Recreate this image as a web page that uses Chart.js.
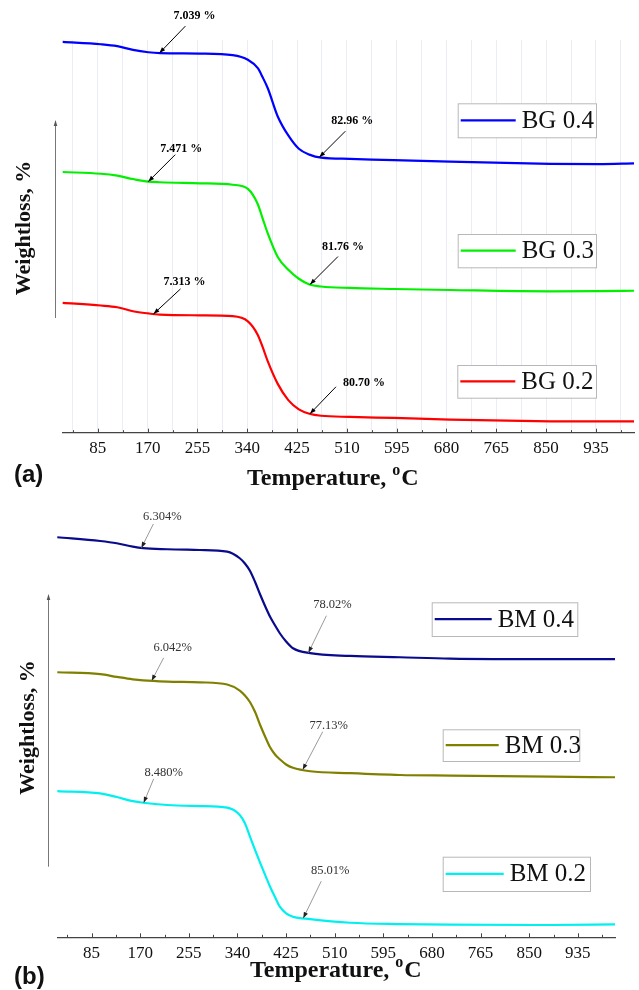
<!DOCTYPE html>
<html>
<head>
<meta charset="utf-8">
<title>TGA curves</title>
<script src="https://cdn.jsdelivr.net/npm/chart.js@4.4.1/dist/chart.umd.min.js"></script>
<style>
  html, body { margin:0; padding:0; background:#fff; }
  #wrap { position:relative; width:639px; height:990px; }
  canvas { position:absolute; left:0; }
  #chartA { top:0; }
  #chartB { top:490px; }
</style>
</head>
<body>
<div id="wrap">
  <canvas id="chartA" width="639" height="490"></canvas>
  <canvas id="chartB" width="639" height="500"></canvas>
</div>
<script>
// ---- data (weight %) ----
const tempsA = [25, 90, 118, 145, 171, 191, 259, 315, 341, 358, 366, 375, 392, 410, 428, 446, 466, 515, 590, 686, 857, 940, 1000];
const bg04   = [100, 98.4, 97.1, 94.5, 92.9, 92.3, 92.0, 90.9, 87.8, 82.0, 76.0, 68.3, 49.0, 36.0, 26.9, 22.9, 20.8, 20.0, 19.1, 18.1, 16.6, 16.4, 16.9];
const bg03   = [100, 98.8, 97.5, 95.2, 93.4, 93.0, 92.3, 91.3, 88.5, 78.0, 68.5, 58.0, 41.9, 33.1, 27.0, 23.1, 21.7, 20.7, 20.0, 19.3, 18.4, 18.5, 18.8];
const bg02   = [100, 98.2, 97.0, 94.3, 92.8, 92.0, 91.5, 90.9, 87.4, 78.1, 70.0, 60.0, 44.6, 33.5, 27.2, 24.2, 22.8, 22.0, 21.3, 20.2, 19.0, 18.9, 19.0];

const tempsB = [25, 100, 129, 157, 175, 217, 274, 322, 344, 353, 362, 371, 380, 389, 397, 406, 414, 425, 437, 467, 537, 624, 712, 887, 1000];
const bm04   = [100, 97.5, 96.0, 93.7, 92.7, 92.0, 91.5, 90.4, 86.0, 82.5, 77.5, 70.0, 61.5, 53.5, 47.0, 41.0, 36.0, 30.5, 26.0, 22.7, 20.9, 20.0, 19.1, 18.7, 18.7];
const bm03   = [100, 98.7, 96.9, 95.3, 94.6, 93.8, 93.3, 91.8, 87.8, 84.5, 80.0, 73.3, 64.5, 56.5, 50.0, 45.0, 42.0, 38.5, 36.3, 34.0, 32.7, 31.5, 31.1, 30.4, 30.0];
const bm02   = [100, 98.4, 96.0, 93.3, 92.2, 90.7, 90.0, 88.9, 84.0, 78.5, 69.5, 60.5, 51.8, 43.5, 36.2, 29.0, 22.9, 18.5, 16.2, 14.6, 12.2, 11.3, 10.9, 10.7, 11.1];

const namesA = ['BG 0.4', 'BG 0.3', 'BG 0.2'];
const namesB = ['BM 0.4', 'BM 0.3', 'BM 0.2'];
const colorsA = ['#0000ff', '#00f000', '#ff0000'];
const colorsB = ['#0a0a8c', '#808000', '#00f0f0'];
// vertical shift used to stack the curves
const offsetsA = [178.5, 89.5, 0];
const offsetsB = [169.2, 79.2, 0];

const majorTicks = [85, 170, 255, 340, 425, 510, 595, 680, 765, 850, 935];
const minorTicks = [42.5, 127.5, 212.5, 297.5, 382.5, 467.5, 552.5, 637.5, 722.5, 807.5, 892.5, 977.5];

// arrow labels: dataset, temperature of the arrow tip, text
const notesA = [
  { ds:0, t:190, text:'7.039 %', label:[35,-37], tail:[26,-27] },
  { ds:1, t:171, text:'7.471 %', label:[33,-33], tail:[27,-27] },
  { ds:2, t:180, text:'7.313 %', label:[31,-32], tail:[27,-25] },
  { ds:0, t:463, text:'82.96 %', label:[33,-36], tail:[26,-26] },
  { ds:1, t:447, text:'81.76 %', label:[33,-38], tail:[28,-28] },
  { ds:2, t:447, text:'80.70 %', label:[54,-31], tail:[26,-27] }
];
const notesB = [
  { ds:0, t:172, text:'6.304%', label:[21,-31], tail:[12,-24] },
  { ds:1, t:190, text:'6.042%', label:[21,-33], tail:[12,-23] },
  { ds:2, t:176, text:'8.480%', label:[20,-30], tail:[10,-24] },
  { ds:0, t:464, text:'78.02%', label:[24,-48], tail:[18,-37] },
  { ds:1, t:454, text:'77.13%', label:[26,-44], tail:[20,-38] },
  { ds:2, t:455, text:'85.01%', label:[27,-47], tail:[18,-37] }
];

const SERIF = '"Liberation Serif", "Times New Roman", serif';
const SANS = '"Liberation Sans", Arial, sans-serif';

function valueAt(ts, vs, t) {
  for (let i = 1; i < ts.length; i++) {
    if (t <= ts[i]) {
      const f = (t - ts[i-1]) / (ts[i] - ts[i-1]);
      return vs[i-1] + f * (vs[i] - vs[i-1]);
    }
  }
  return vs[vs.length - 1];
}

function arrowHead(ctx, x1, y1, x2, y2, len, half) {
  const a = Math.atan2(y2 - y1, x2 - x1);
  ctx.beginPath();
  ctx.moveTo(x2, y2);
  ctx.lineTo(x2 - len*Math.cos(a) + half*Math.sin(a), y2 - len*Math.sin(a) - half*Math.cos(a));
  ctx.lineTo(x2 - len*Math.cos(a) - half*Math.sin(a), y2 - len*Math.sin(a) + half*Math.cos(a));
  ctx.closePath();
  ctx.fill();
}

function decorPlugin(cfg) {
  return {
    id: 'decor',
    afterDraw(chart) {
      const ctx = chart.ctx;
      const xs = chart.scales.x, ys = chart.scales.y;
      const axisY = chart.chartArea.bottom;
      ctx.save();

      // inward tick marks
      ctx.strokeStyle = '#444';
      ctx.lineWidth = 1;
      majorTicks.concat(minorTicks).forEach(v => {
        const px = Math.round(xs.getPixelForValue(v)) + 0.5;
        const len = majorTicks.includes(v) ? 4 : 2.5;
        ctx.beginPath(); ctx.moveTo(px, axisY); ctx.lineTo(px, axisY - len); ctx.stroke();
      });

      // arrow labels
      cfg.notes.forEach(n => {
        const w = valueAt(cfg.temps, cfg.series[n.ds], n.t) + cfg.offsets[n.ds];
        const tx = xs.getPixelForValue(n.t), ty = ys.getPixelForValue(w);
        const sx = tx + n.tail[0], sy = ty + n.tail[1];
        ctx.strokeStyle = cfg.noteLine;
        ctx.lineWidth = 1;
        ctx.beginPath(); ctx.moveTo(sx, sy); ctx.lineTo(tx, ty); ctx.stroke();
        ctx.fillStyle = cfg.noteHead;
        arrowHead(ctx, sx, sy, tx, ty, 6, 2.2);
        ctx.fillStyle = cfg.noteColor;
        ctx.font = cfg.noteFont;
        ctx.textAlign = 'center';
        ctx.textBaseline = 'middle';
        ctx.fillText(n.text, tx + n.label[0], ty + n.label[1]);
      });

      // legend boxes beside each curve
      cfg.legends.forEach((L, i) => {
        ctx.fillStyle = '#fff';
        ctx.fillRect(L.x, L.y, L.w, L.h);
        ctx.strokeStyle = '#b8b8b8';
        ctx.lineWidth = 1;
        ctx.strokeRect(L.x + 0.5, L.y + 0.5, L.w, L.h);
        const cy = L.y + L.h / 2;
        ctx.strokeStyle = cfg.colors[i];
        ctx.lineWidth = 2.2;
        ctx.beginPath(); ctx.moveTo(L.x + 3, cy); ctx.lineTo(L.x + L.line, cy); ctx.stroke();
        ctx.fillStyle = '#111';
        ctx.font = '25px ' + SERIF;
        ctx.textAlign = 'left';
        ctx.textBaseline = 'middle';
        ctx.fillText(cfg.names[i], L.x + L.line + 6, cy + 1);
      });

      // y axis arrow and title
      ctx.strokeStyle = '#777';
      ctx.fillStyle = '#555';
      ctx.lineWidth = 1;
      const ar = cfg.yArrow;
      ctx.beginPath(); ctx.moveTo(ar.x + 0.5, ar.y1); ctx.lineTo(ar.x + 0.5, ar.y2 + 4); ctx.stroke();
      arrowHead(ctx, ar.x + 0.5, ar.y1, ar.x + 0.5, ar.y2, 6, 1.8);

      ctx.save();
      ctx.translate(cfg.yTitle.x, cfg.yTitle.y);
      ctx.rotate(-Math.PI / 2);
      ctx.fillStyle = '#111';
      ctx.font = 'bold 22px ' + SERIF;
      ctx.textAlign = 'center';
      ctx.textBaseline = 'middle';
      ctx.fillText('Weightloss, %', 0, 0);
      ctx.restore();

      // x axis title with superscript degree
      ctx.fillStyle = '#111';
      ctx.textAlign = 'left';
      ctx.textBaseline = 'alphabetic';
      let x = cfg.xTitle.x;
      const base = cfg.xTitle.y;
      ctx.font = 'bold 24px ' + SERIF;
      ctx.fillText('Temperature, ', x, base);
      x += ctx.measureText('Temperature, ').width;
      ctx.font = 'bold 16px ' + SERIF;
      ctx.fillText('o', x, base - 10);
      x += ctx.measureText('o').width + 1;
      ctx.font = 'bold 24px ' + SERIF;
      ctx.fillText('C', x, base);

      // panel letter
      ctx.font = 'bold 24px ' + SANS;
      ctx.textBaseline = 'middle';
      ctx.fillText(cfg.panel, 14, cfg.panelY);

      ctx.restore();
    }
  };
}

function makePanel(id, cfg) {
  const datasets = cfg.series.map((vals, i) => ({
    label: cfg.names[i],
    data: cfg.temps.map((t, j) => ({ x: t, y: vals[j] + cfg.offsets[i] })),
    borderColor: cfg.colors[i],
    borderWidth: 2.2,
    pointRadius: 0,
    fill: false,
    cubicInterpolationMode: 'monotone',
    clip: false
  }));
  const allTicks = minorTicks.concat(majorTicks).sort((a, b) => a - b);
  return new Chart(document.getElementById(id), {
    type: 'line',
    data: { datasets },
    options: {
      responsive: false,
      animation: false,
      devicePixelRatio: 1,
      layout: { padding: cfg.padding },
      plugins: { legend: { display: false }, tooltip: { enabled: false } },
      scales: {
        x: {
          type: 'linear', min: 25, max: 1000,
          afterBuildTicks: s => { s.ticks = allTicks.map(v => ({ value: v })); },
          afterFit: s => { s.height = cfg.axisH; },
          grid: { display: cfg.grid, color: '#ececf4', lineWidth: 1, drawTicks: false, drawOnChartArea: true },
          border: { display: true, color: '#444', width: 1.2 },
          ticks: {
            padding: 6, color: '#111', autoSkip: false, maxRotation: 0,
            font: { family: SERIF, size: 17 },
            callback: v => majorTicks.includes(v) ? String(v) : ''
          }
        },
        y: { display: false, min: cfg.yMin, max: cfg.yMax }
      }
    },
    plugins: [decorPlugin(cfg)]
  });
}

makePanel('chartA', {
  temps: tempsA, series: [bg04, bg03, bg02], names: namesA, colors: colorsA, offsets: offsetsA,
  notes: notesA, noteFont: 'bold 12px ' + SERIF, noteColor: '#000', noteLine: '#000', noteHead: '#000',
  padding: { left: 62.7, right: 5, top: 40, bottom: 0 }, axisH: 57.3,
  yMin: 11.2, yMax: 279.8, grid: true,
  legends: [
    { x: 457.7, y: 103.3, w: 138.3, h: 34, line: 58 },
    { x: 457.7, y: 234, w: 138.3, h: 33.3, line: 58 },
    { x: 457.3, y: 365, w: 138.7, h: 32.7, line: 58 }
  ],
  yArrow: { x: 55, y1: 318, y2: 120 }, yTitle: { x: 24, y: 228 },
  xTitle: { x: 247, y: 485 }, panel: '(a)', panelY: 475
});

makePanel('chartB', {
  temps: tempsB, series: [bm04, bm03, bm02], names: namesB, colors: colorsB, offsets: offsetsB,
  notes: notesB, noteFont: '12.5px ' + SERIF, noteColor: '#333', noteLine: '#999', noteHead: '#222',
  padding: { left: 57.3, right: 24, top: 15, bottom: 0 }, axisH: 52.7,
  yMin: 2.5, yMax: 290.7, grid: false,
  legends: [
    { x: 431.7, y: 112.3, w: 145.6, h: 33.7, line: 60 },
    { x: 442.7, y: 239.3, w: 136.6, h: 31.7, line: 56 },
    { x: 442.7, y: 366.7, w: 147.3, h: 34.3, line: 61 }
  ],
  yArrow: { x: 48, y1: 376.7, y2: 104 }, yTitle: { x: 28.5, y: 237.5 },
  xTitle: { x: 250, y: 487 }, panel: '(b)', panelY: 487
});
</script>
</body>
</html>
